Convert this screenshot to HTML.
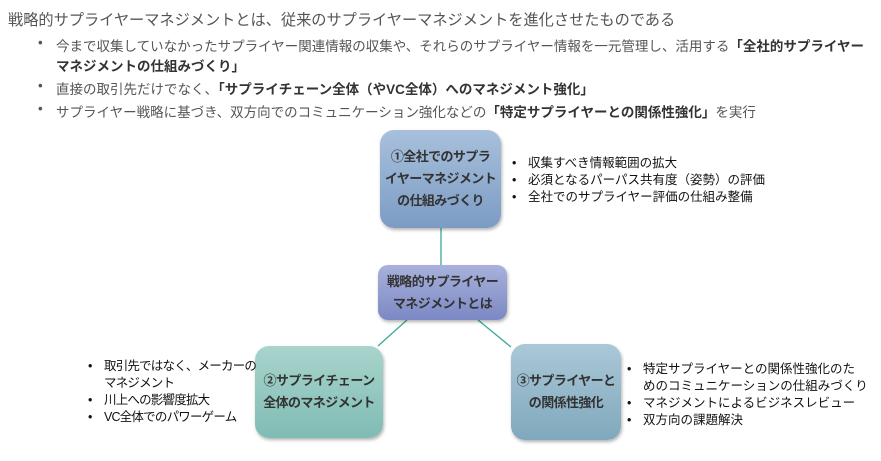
<!DOCTYPE html>
<html><head><meta charset="utf-8"><style>
body{margin:0;width:881px;height:461px;background:#fff;font-family:"Liberation Sans","Noto Sans CJK JP",sans-serif;color:#555;position:relative;overflow:hidden}
.a{position:absolute;white-space:nowrap}
.t{font-size:15.2px;left:8px;top:8px}
.b{font-size:13.5px;left:56px}
.b.d:before{content:"•";position:absolute;left:-18px}
b{color:#333}
.box{position:absolute;border-radius:14px;display:flex;align-items:center;justify-content:center;text-align:center;font-weight:bold;color:#333;font-size:13px;letter-spacing:-0.6px;white-space:nowrap;line-height:22px;box-shadow:1px 2px 3px rgba(0,0,0,.3)}
.l{font-size:12.5px;color:#111;line-height:17px}
.l div{position:relative;padding-left:16px}
.l div:before{content:"•";position:absolute;left:0}
</style></head><body>
<div class="a t">戦略的サプライヤーマネジメントとは、従来のサプライヤーマネジメントを進化させたものである</div>
<div class="a b d" style="top:35px">今まで収集していなかったサプライヤー関連情報の収集や、それらのサプライヤー情報を一元管理し、活用する<b>「全社的サプライヤー</b></div>
<div class="a b" style="top:55px"><b>マネジメントの仕組みづくり」</b></div>
<div class="a b d" style="top:78px">直接の取引先だけでなく、<b>「サプライチェーン全体（やVC全体）へのマネジメント強化」</b></div>
<div class="a b d" style="top:101px">サプライヤー戦略に基づき、双方向でのコミュニケーション強化などの<b>「特定サプライヤーとの関係性強化」</b>を実行</div>
<svg class="a" style="left:0;top:0" width="881" height="461"><g stroke="#3aa89a" stroke-width="1.3"><line x1="441" y1="228" x2="441" y2="265"/><line x1="407" y1="320" x2="378" y2="346"/><line x1="478" y1="320" x2="511" y2="347"/></g></svg>
<div class="box" style="left:380px;top:130px;width:121px;height:98px;background:linear-gradient(#a8c0dc,#7c9cc4)">①全社でのサプラ<br>イヤーマネジメント<br>の仕組みづくり</div>
<div class="box" style="left:378px;top:265px;width:129px;height:55px;border-radius:10px;background:linear-gradient(#a8b2dc,#7c88c4)">戦略的サプライヤー<br>マネジメントとは</div>
<div class="box" style="left:255px;top:346px;width:128px;height:92px;background:linear-gradient(#a8d4cc,#80bcb4)">②サプライチェーン<br>全体のマネジメント</div>
<div class="box" style="left:511px;top:344px;width:110px;height:96px;background:linear-gradient(#aac8d8,#80a8bc)">③サプライヤーと<br>の関係性強化</div>
<div class="a l" style="left:512px;top:155px"><div>収集すべき情報範囲の拡大</div><div>必須となるパーパス共有度（姿勢）の評価</div><div>全社でのサプライヤー評価の仕組み整備</div></div>
<div class="a l" style="left:88px;top:358px;letter-spacing:-0.8px"><div>取引先ではなく、メーカーの<br>マネジメント</div><div>川上への影響度拡大</div><div>VC全体でのパワーゲーム</div></div>
<div class="a l" style="left:627px;top:361px"><div>特定サプライヤーとの関係性強化のた<br>めのコミュニケーションの仕組みづくり</div><div>マネジメントによるビジネスレビュー</div><div>双方向の課題解決</div></div>
</body></html>
